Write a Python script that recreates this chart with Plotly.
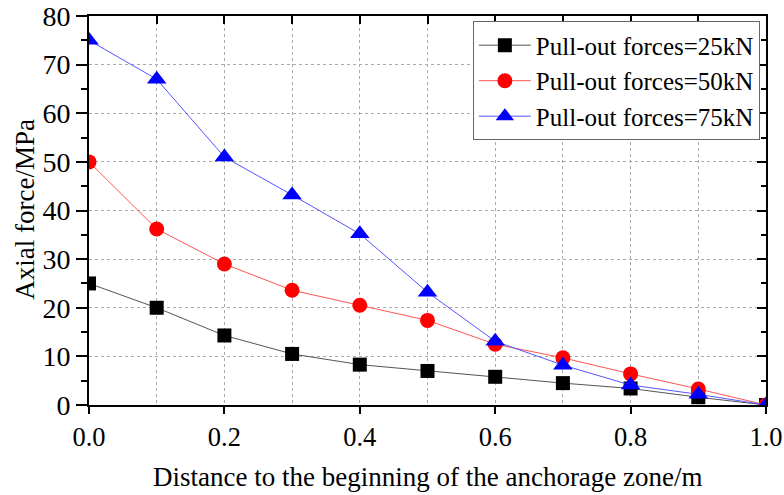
import plotly.graph_objects as go

# Distance along the anchorage zone (m)
distance = [0.0, 0.1, 0.2, 0.3, 0.4, 0.5, 0.6, 0.7, 0.8, 0.9, 1.0]

# Axial force (MPa) for each pull-out load
force_25kn = [25.0, 20.0, 14.3, 10.5, 8.3, 7.0, 5.8, 4.5, 3.4, 1.6, 0.0]
force_50kn = [50.0, 36.2, 29.0, 23.6, 20.5, 17.4, 12.5, 9.7, 6.4, 3.3, 0.0]
force_75kn = [75.0, 67.0, 51.0, 43.2, 35.2, 23.2, 13.1, 8.2, 4.1, 2.2, 0.0]

series_names = ["Pull-out forces=25kN", "Pull-out forces=50kN", "Pull-out forces=75kN"]

x_ticks = [0.0, 0.2, 0.4, 0.6, 0.8, 1.0]
x_tick_text = ["0.0", "0.2", "0.4", "0.6", "0.8", "1.0"]
y_ticks = [0, 10, 20, 30, 40, 50, 60, 70, 80]

x_title = "Distance to the beginning of the anchorage zone/m"
y_title = "Axial force/MPa"

FONT = "Liberation Serif, Times New Roman, serif"

fig = go.Figure()

styles = [
    ("#000000", "#555555", "square", 14),
    ("#ff0000", "#ff5555", "circle", 15),
    ("#0000ff", "#5555ff", "triangle-up", 17),
]
for name, ys, (mcol, lcol, sym, size) in zip(
        series_names, [force_25kn, force_50kn, force_75kn], styles):
    fig.add_trace(go.Scatter(
        x=distance, y=ys, name=name, mode="lines+markers",
        line=dict(color=lcol, width=1),
        marker=dict(color=mcol, symbol=sym, size=size, line=dict(width=0)),
    ))

grid_style = dict(gridcolor="#aaaaaa", griddash="dot", gridwidth=1)
axis_line = dict(showline=True, linecolor="black", linewidth=2, zeroline=False, automargin=False)

fig.update_layout(
    width=784, height=495,
    margin=dict(l=89, r=18, t=16, b=90),
    paper_bgcolor="white", plot_bgcolor="white",
    font=dict(family=FONT, size=22, color="black"),
    xaxis=dict(
        range=[0, 1], tickvals=x_ticks, ticktext=x_tick_text, **axis_line,
        ticks="outside", ticklen=7, tickwidth=2, tickcolor="black",
        showgrid=True, **grid_style,
        minor=dict(dtick=0.1, tick0=0, ticks="", showgrid=True, **grid_style),
        tickfont=dict(family=FONT, size=26.5),
    ),
    yaxis=dict(
        range=[0, 80], tickvals=y_ticks, **axis_line,
        ticks="outside", ticklen=11, tickwidth=2, tickcolor="black",
        showgrid=True, **grid_style,
        minor=dict(dtick=5, tick0=0, ticks="outside", ticklen=6, tickwidth=1.5,
                   tickcolor="black", showgrid=False),
        tickfont=dict(family=FONT, size=28),
    ),
    xaxis2=dict(
        overlaying="x", side="top", anchor="y", range=[0, 1],
        tickvals=x_ticks, showticklabels=False, **axis_line,
        ticks="inside", ticklen=8, tickwidth=2, tickcolor="black",
        showgrid=False,
        minor=dict(dtick=0.1, tick0=0, ticks="inside", ticklen=8, tickwidth=1.5, tickcolor="black"),
    ),
    yaxis2=dict(
        overlaying="y", side="right", anchor="x", range=[0, 80],
        tickvals=y_ticks, showticklabels=False, **axis_line,
        ticks="inside", ticklen=9, tickwidth=2, tickcolor="black",
        showgrid=False,
        minor=dict(dtick=5, tick0=0, ticks="inside", ticklen=5, tickwidth=1.5, tickcolor="black"),
    ),
    legend=dict(
        x=0.567, y=0.986, xanchor="left", yanchor="top",
        bgcolor="white", bordercolor="#666666", borderwidth=1,
        font=dict(family=FONT, size=25), itemwidth=52, tracegroupgap=0,
    ),
    showlegend=True,
    annotations=[
        dict(text=x_title, xref="paper", yref="paper", x=0.5, y=-0.185,
             xanchor="center", yanchor="middle", showarrow=False,
             font=dict(family=FONT, size=27)),
        dict(text=y_title, xref="paper", yref="paper", x=-0.094, y=0.503,
             xanchor="center", yanchor="middle", showarrow=False, textangle=-90,
             font=dict(family=FONT, size=27)),
    ],
)

# Invisible trace so the mirrored top/right axes are laid out
fig.add_trace(go.Scatter(x=[None], y=[None], xaxis="x2", yaxis="y2",
                         showlegend=False, hoverinfo="skip"))

fig.write_html("out.html")
